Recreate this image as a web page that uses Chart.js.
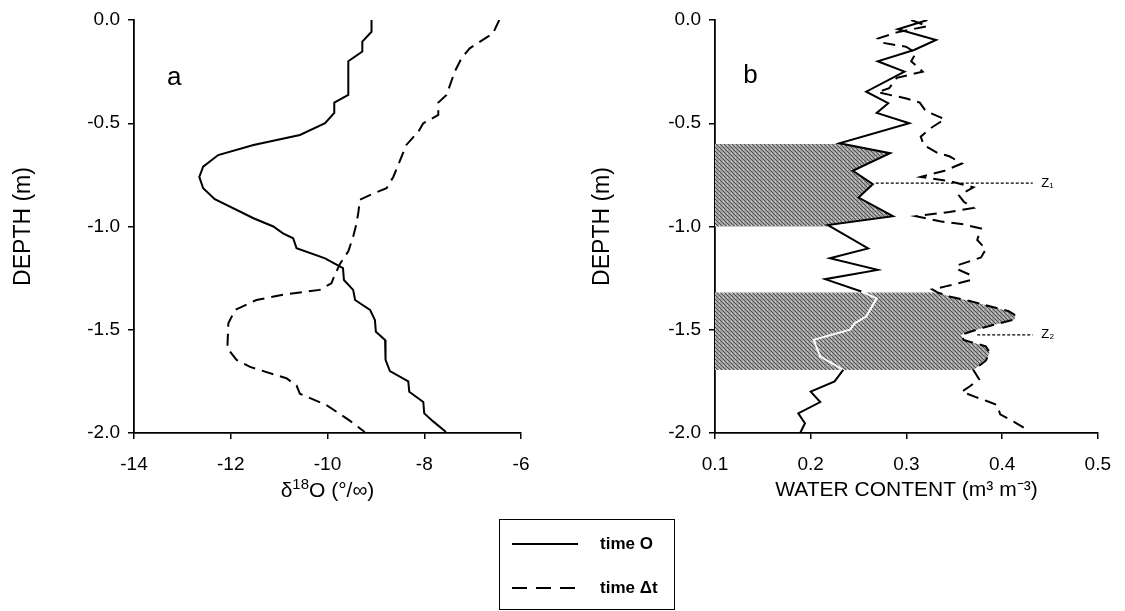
<!DOCTYPE html>
<html><head><meta charset="utf-8">
<script src="https://cdn.jsdelivr.net/npm/chart.js@4.4.0/dist/chart.umd.min.js"></script>
<style>
html,body{margin:0;padding:0;background:#fff}
body{width:1125px;height:611px;position:relative;overflow:hidden;font-family:'Liberation Sans',Arial,sans-serif}
#ca{position:absolute;left:0;top:0}
#cb{position:absolute;left:560px;top:0}
#legend{position:absolute;left:499px;top:519px;width:176px;height:91px;border:1.5px solid #000;box-sizing:border-box}
.row{position:absolute;left:12px;height:20px;display:flex;align-items:center}
.row svg{width:66px;height:6px}
.row span{margin-left:22px;font-weight:bold;font-size:17px;color:#000}
</style>
</head><body>
<canvas id="ca" width="560" height="530"></canvas>
<canvas id="cb" width="565" height="530"></canvas>
<div id="legend">
  <div class="row" style="top:14px"><svg><line x1="0" y1="3" x2="66" y2="3" stroke="#000" stroke-width="2"/></svg><span>time O</span></div>
  <div class="row" style="top:58px"><svg><line x1="0" y1="3" x2="66" y2="3" stroke="#000" stroke-width="2" stroke-dasharray="15 9"/></svg><span>time &Delta;t</span></div>
</div>
<script>
// ---------- DATA ----------
// Panel a: delta 18O profiles
const aDepth0 = [0,-0.057,-0.105,-0.153,-0.20,-0.363,-0.40,-0.45,-0.50,-0.557,-0.605,-0.654,-0.71,-0.76,-0.815,-0.868,-0.96,-1.0,-1.033,-1.057,-1.105,-1.154,-1.202,-1.259,-1.307,-1.356,-1.404,-1.453,-1.51,-1.55,-1.646,-1.70,-1.75,-1.80,-1.85,-1.905,-1.945,-1.995];
const aVal0   = [-9.09,-9.09,-9.28,-9.28,-9.57,-9.57,-9.86,-9.86,-10.05,-10.57,-11.53,-12.26,-12.57,-12.65,-12.57,-12.33,-11.53,-11.12,-10.92,-10.71,-10.64,-10.05,-9.68,-9.66,-9.47,-9.43,-9.12,-9.02,-9.0,-8.81,-8.80,-8.71,-8.33,-8.31,-8.02,-8.0,-7.81,-7.55];
const aDepthDt = [0,-0.065,-0.137,-0.185,-0.25,-0.363,-0.40,-0.46,-0.50,-0.54,-0.605,-0.76,-0.815,-0.84,-0.87,-0.928,-0.985,-1.05,-1.12,-1.18,-1.235,-1.275,-1.307,-1.33,-1.356,-1.404,-1.469,-1.59,-1.646,-1.68,-1.735,-1.77,-1.81,-1.865,-1.94,-1.995];
const aValDt   = [-6.45,-6.58,-7.06,-7.23,-7.37,-7.54,-7.71,-7.71,-8.02,-8.12,-8.37,-8.64,-8.78,-9.05,-9.33,-9.36,-9.40,-9.47,-9.57,-9.74,-9.85,-9.92,-10.16,-10.92,-11.47,-11.91,-12.05,-12.07,-11.88,-11.60,-10.85,-10.64,-10.57,-10.02,-9.54,-9.23];
// Panel b: water content profiles
const bDepth0 = [0,-0.045,-0.097,-0.145,-0.20,-0.25,-0.347,-0.403,-0.45,-0.50,-0.597,-0.645,-0.73,-0.795,-0.86,-0.95,-0.993,-1.106,-1.154,-1.21,-1.255,-1.315,-1.348,-1.436,-1.468,-1.50,-1.549,-1.63,-1.694,-1.75,-1.80,-1.85,-1.905,-1.953,-2.0];
const bVal0   = [0.322,0.291,0.331,0.308,0.270,0.298,0.258,0.281,0.269,0.303,0.230,0.283,0.244,0.265,0.250,0.286,0.218,0.260,0.220,0.270,0.215,0.253,0.269,0.258,0.246,0.241,0.203,0.210,0.234,0.225,0.200,0.210,0.187,0.194,0.189];
const bDepthDt = [0,-0.03,-0.06,-0.09,-0.11,-0.13,-0.16,-0.20,-0.25,-0.28,-0.33,-0.35,-0.38,-0.40,-0.44,-0.47,-0.48,-0.525,-0.565,-0.605,-0.645,-0.66,-0.695,-0.73,-0.76,-0.78,-0.81,-0.85,-0.88,-0.91,-0.93,-0.95,-0.975,-0.99,-1.01,-1.065,-1.11,-1.15,-1.19,-1.21,-1.235,-1.26,-1.29,-1.305,-1.32,-1.34,-1.365,-1.39,-1.41,-1.43,-1.45,-1.49,-1.525,-1.55,-1.58,-1.61,-1.65,-1.695,-1.74,-1.775,-1.80,-1.825,-1.845,-1.865,-1.91,-1.945,-1.975,-2.0];
const bValDt   = [0.305,0.322,0.29,0.27,0.275,0.30,0.31,0.305,0.317,0.29,0.282,0.27,0.30,0.314,0.32,0.335,0.34,0.325,0.315,0.318,0.333,0.345,0.358,0.34,0.315,0.345,0.37,0.355,0.36,0.37,0.345,0.31,0.335,0.36,0.378,0.374,0.383,0.378,0.352,0.355,0.367,0.367,0.341,0.327,0.333,0.346,0.37,0.39,0.407,0.414,0.413,0.38,0.357,0.36,0.383,0.387,0.383,0.37,0.376,0.366,0.358,0.372,0.384,0.395,0.398,0.412,0.423,0.426];
// shaded bands (depth range) and which series bounds them
const bandTop    = [-0.6, -1.32];
const bandBottom = [-1.0, -1.695];
const bandSeries = ['time0', 'timeDt'];
// Z markers
const zDepth = [-0.79, -1.525];
const zFrom  = [0.268, 0.374];
const zTo    = [0.432, 0.432];
const zLabel = ['Z\u2081', 'Z\u2082'];
// axis ticks
const aTicksX = [-14,-12,-10,-8,-6];
const bTicksX = [0.1,0.2,0.3,0.4,0.5];
const depthTicks = [0,-0.5,-1.0,-1.5,-2.0];

// ---------- helpers ----------
const pts = (ds, vs) => ds.map((d,i)=>({x:vs[i], y:d}));
function interp(ds, vs, d){
  for(let i=0;i<ds.length-1;i++){
    if((ds[i]>=d && ds[i+1]<=d)){
      const t=(d-ds[i])/(ds[i+1]-ds[i]); return vs[i]+t*(vs[i+1]-vs[i]);
    }
  }
  return vs[vs.length-1];
}
function bandPoly(ds, vs, top, bot, xmin){
  const p=[{x:xmin,y:top},{x:interp(ds,vs,top),y:top}];
  ds.forEach((d,i)=>{ if(d<top && d>bot) p.push({x:vs[i],y:d}); });
  p.push({x:interp(ds,vs,bot),y:bot},{x:xmin,y:bot},{x:xmin,y:top});
  return p;
}
function makePattern(){
  const c=document.createElement('canvas'); c.width=4; c.height=4;
  const g=c.getContext('2d');
  g.fillStyle='#a2a2a2'; g.fillRect(0,0,4,4);
  g.fillStyle='#4f4f4f';
  for(let i=0;i<4;i++){ g.fillRect(i,i,1,1); }
  g.fillStyle='#d8d8d8'; g.fillRect(3,1,1,1);
  return g.createPattern(c,'repeat');
}
const shade = makePattern();

const FONT = "'Liberation Sans', Arial, sans-serif";
const fixW = (w)=>(s)=>{ s.width = w; };
const fixH = (h)=>(s)=>{ s.height = h; };

const textPlugin = {
  id:'txt',
  afterDatasetsDraw(chart, args, opts){
    const {ctx, scales:{x,y}} = chart;
    (opts.items||[]).forEach(it=>{
      ctx.save(); ctx.font = it.font; ctx.fillStyle='#000';
      ctx.textAlign = it.align||'center'; ctx.textBaseline='middle';
      ctx.fillText(it.text, x.getPixelForValue(it.x), y.getPixelForValue(it.y));
      ctx.restore();
    });
  },
  afterDraw(chart, args, opts){
    // rich x-axis title (runs of normal / superscript text)
    const rt = opts.richTitle; if(!rt) return;
    const {ctx, chartArea} = chart;
    ctx.save(); ctx.fillStyle='#000'; ctx.textBaseline='alphabetic'; ctx.textAlign='left';
    let w=0;
    rt.runs.forEach(r=>{ ctx.font = `${r.sup?rt.supSize:rt.size}px ${FONT}`; w += ctx.measureText(r.t).width; });
    let x = (chartArea.left+chartArea.right)/2 - w/2;
    rt.runs.forEach(r=>{
      ctx.font = `${r.sup?rt.supSize:rt.size}px ${FONT}`;
      ctx.fillText(r.t, x, rt.baseline - (r.sup?rt.raise:0));
      x += ctx.measureText(r.t).width;
    });
    ctx.restore();
  }
};
Chart.register(textPlugin);

function axes(xmin,xmax,xTicks,xTitle,yTitlePad,yWidth,xDigits){
  return {
    x:{type:'linear',min:xmin,max:xmax,
      afterBuildTicks:(s)=>{ s.ticks = xTicks.map(v=>({value:v})); },
      afterFit: fixH(97),
      grid:{display:true,drawOnChartArea:false,drawTicks:true,tickLength:6,color:'#000',lineWidth:1.5},
      border:{display:true,color:'#000',width:1.8},
      ticks:{color:'#000',font:{family:FONT,size:19},padding:14,maxRotation:0,
        callback:(v)=> xDigits? Number(v).toFixed(xDigits) : String(v)},
      title:{display:!!xTitle,text:xTitle||'',color:'#000',font:{family:FONT,size:21},padding:{top:0,bottom:27}}
    },
    y:{type:'linear',min:-2,max:0,
      afterBuildTicks:(s)=>{ s.ticks = depthTicks.map(v=>({value:v})); },
      afterFit: fixW(yWidth),
      grid:{display:true,drawOnChartArea:false,drawTicks:true,tickLength:6,color:'#000',lineWidth:1.5},
      border:{display:true,color:'#000',width:1.8},
      ticks:{color:'#000',font:{family:FONT,size:19},padding:8,callback:(v)=>Number(v).toFixed(1)},
      title:{display:true,text:'DEPTH (m)',color:'#000',font:{family:FONT,size:23},padding:{top:yTitlePad,bottom:0}}
    }
  };
}
const lineDs = (data, dash, extra) => Object.assign({data, showLine:true, borderColor:'#000', borderWidth:2, borderDash:dash, pointRadius:0, tension:0, fill:false, order:0}, extra||{});

// ---------- Panel a ----------
new Chart(document.getElementById('ca'), {
  type:'scatter',
  data:{datasets:[
    lineDs(pts(aDepth0,aVal0), []),
    lineDs(pts(aDepthDt,aValDt), [12,7])
  ]},
  options:{
    responsive:false, animation:false, devicePixelRatio:1,
    layout:{padding:{left:0,top:20,right:39,bottom:0}, autoPadding:false},
    plugins:{legend:{display:false},tooltip:{enabled:false},
      txt:{items:[{text:'a',x:-13.17,y:-0.28,font:`26px ${FONT}`}],
        richTitle:{size:21,supSize:15,raise:8,baseline:497,
          runs:[{t:'\u03B4'},{t:'18',sup:true},{t:'O (\u00B0/\u221E)'}]}}},
    scales: axes(-14,-6,aTicksX,null,10,134,0)
  }
});

// ---------- Panel b ----------
const series = {time0:[bDepth0,bVal0], timeDt:[bDepthDt,bValDt]};
const bandDs = bandTop.map((t,i)=>{
  const [ds,vs] = series[bandSeries[i]];
  return {data:bandPoly(ds,vs,t,bandBottom[i],0.1), showLine:true, borderWidth:0, borderColor:'rgba(0,0,0,0)',
    backgroundColor:shade, fill:'shape', pointRadius:0, tension:0, order:5};
});
const inBand2 = (d)=> d < bandTop[1] && d > bandBottom[1];
const zDs = zDepth.map((d,i)=> lineDs([{x:zFrom[i],y:d},{x:zTo[i],y:d}], [3,2], {borderWidth:1.2, order:1}));

new Chart(document.getElementById('cb'), {
  type:'scatter',
  data:{datasets:[
    ...bandDs,
    lineDs(pts(bDepth0,bVal0), [], {segment:{borderColor:(c)=> inBand2((c.p0.parsed.y+c.p1.parsed.y)/2) ? '#ffffff' : '#000000'}}),
    lineDs(pts(bDepthDt,bValDt), [12,7]),
    ...zDs
  ]},
  options:{
    responsive:false, animation:false, devicePixelRatio:1,
    layout:{padding:{left:0,top:20,right:22,bottom:0}, autoPadding:false},
    plugins:{legend:{display:false},tooltip:{enabled:false},
      txt:{items:[
        {text:'b',x:0.137,y:-0.27,font:`26px ${FONT}`},
        ...zDepth.map((d,i)=>({text:zLabel[i],x:0.441,y:d,font:`13px ${FONT}`,align:'left'}))
      ]}},
    scales: axes(0.1,0.5,bTicksX,'WATER CONTENT (m\u00B3 m\u207B\u00B3)',29,155,1)
  }
});
</script>
</body></html>
